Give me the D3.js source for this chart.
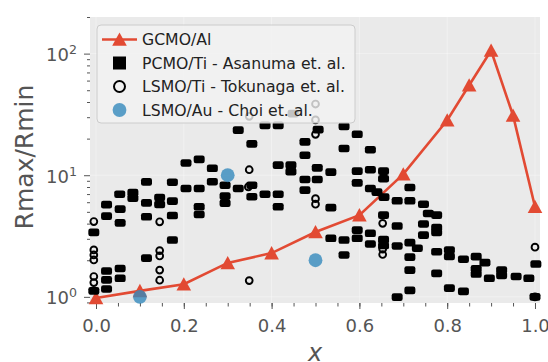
<!DOCTYPE html>
<html>
<head>
<meta charset="utf-8">
<script src="https://cdn.jsdelivr.net/npm/d3@7"></script>
<style>
body { margin: 0; background: #fff; }
svg { display: block; font-family: "DejaVu Sans", sans-serif; }
</style>
</head>
<body>
<script>
// chart values
var gcmoX = [0, 0.1, 0.2, 0.3, 0.4, 0.5, 0.6, 0.7, 0.8, 0.85, 0.9, 0.95, 1.0];
var gcmoY = [0.98, 1.12, 1.27, 1.9, 2.29, 3.41, 4.7, 10.2, 28.3, 55, 106, 31, 5.5];

var pcmoX = [
  -0.005, -0.005,
  0.024, 0.024, 0.024, 0.024, 0.024,
  0.054, 0.055, 0.055, 0.055, 0.055,
  0.084, 0.084,
  0.115, 0.115, 0.115, 0.115,
  0.145, 0.145,
  0.174, 0.174, 0.174, 0.174,
  0.205, 0.205,
  0.235, 0.235, 0.235, 0.235,
  0.265, 0.265,
  0.294, 0.294, 0.294,
  0.324, 0.324,
  0.355, 0.355, 0.355,
  0.385, 0.385,
  0.415, 0.415, 0.415, 0.415,
  0.444, 0.444, 0.449,
  0.476, 0.476, 0.476, 0.476,
  0.506, 0.504, 0.504,
  0.535, 0.535, 0.535,
  0.565, 0.565, 0.565, 0.565,
  0.595, 0.595, 0.595, 0.595, 0.595,
  0.625, 0.625, 0.625, 0.625, 0.625,
  0.655, 0.655, 0.655, 0.655, 0.655, 0.640, 0.656,
  0.686, 0.686, 0.686, 0.686,
  0.715, 0.715, 0.715, 0.715, 0.715, 0.715,
  0.732,
  0.746, 0.746, 0.746,
  0.757,
  0.776, 0.776, 0.776, 0.776, 0.776,
  0.805, 0.805, 0.805,
  0.837, 0.837,
  0.866, 0.866, 0.866,
  0.886, 0.896,
  0.924, 0.924,
  0.957, 0.986, 1.002, 1.0
];
var pcmoY = [
  3.39, 1.12,
  5.73, 4.61, 1.63, 1.38, 1.16,
  6.98, 5.26, 4.06, 1.71, 1.42,
  7.19, 6.48,
  8.81, 5.93, 4.55, 2.08,
  6.56, 5.75,
  8.76, 6.12, 4.66, 2.93,
  12.6, 7.78,
  13.5, 7.78, 5.50, 4.76,
  11.4, 8.85,
  8.28, 6.73, 5.89,
  23.5, 7.78,
  18.1, 8.28, 6.66,
  25.7, 6.98,
  25.7, 12.1, 6.98, 5.50,
  12.1, 10.7, 32.1,
  18.8, 14.6, 9.22, 7.54,
  23.7, 11.5, 9.22,
  10.6, 5.42, 3.03,
  25.2, 16.6, 2.93, 2.21,
  21.7, 10.8, 8.65, 3.54, 3.03,
  16.2, 11.1, 7.78, 3.33, 2.72,
  10.8, 9.36, 4.70, 2.96, 2.64, 7.26, 6.60,
  6.16, 3.82, 2.62, 0.994,
  7.93, 6.16, 2.79, 2.12, 1.66, 1.13,
  2.51,
  5.78, 3.97, 3.22,
  4.85,
  4.70, 3.71, 3.38, 2.35, 1.56,
  2.43, 2.15, 1.18,
  2.04, 1.11,
  2.14, 1.70, 1.54,
  1.91, 1.42,
  1.66, 1.50,
  1.47, 1.42, 1.86, 1.0
];

var lsmoTiX = [
  -0.005, -0.005, -0.005, -0.005, -0.005, -0.005,
  0.145, 0.145, 0.145, 0.145, 0.145,
  0.349, 0.349, 0.347, 0.349,
  0.500, 0.500, 0.500, 0.500, 0.500,
  0.653, 0.653, 0.653,
  1.0, 1.0
];
var lsmoTiY = [
  4.16, 2.43, 2.21, 2.01, 1.47, 1.31,
  4.14, 2.40, 2.17, 1.66, 1.37,
  30.5, 11.1, 8.02, 1.36,
  38.5, 28.5, 21.7, 6.42, 5.78,
  4.02, 2.47, 2.23,
  2.56, 1.0
];

var lsmoAuX = [0.1, 0.3, 0.5];
var lsmoAuY = [1.0, 10, 2.0];

var xTicks = [0, 0.2, 0.4, 0.6, 0.8, 1.0];
var xMinorTicks = d3.range(0, 21).map(function(i) { return i * 0.05; });
var yTicks = [1, 10, 100];
var yMinorTicks = [0.9, 2, 3, 4, 5, 6, 7, 8, 9, 20, 30, 40, 50, 60, 70, 80, 90, 200];

var legendLabels = ["GCMO/Al", "PCMO/Ti - Asanuma et. al.", "LSMO/Ti - Tokunaga et. al.", "LSMO/Au - Choi et. al."];

var width = 548, height = 362;
var plot = {left: 90, right: 540, top: 17, bottom: 303};
var red = "#E24A33", blue = "#348ABD", grey = "#555";

var svg = d3.select("body").append("svg")
    .attr("width", width)
    .attr("height", height);

var x = d3.scaleLinear().domain([-0.0137, 1.0114]).range([plot.left, plot.right]);
var y = d3.scaleLog().domain([0.89, 200]).range([plot.bottom, plot.top]);

// background
svg.append("rect")
    .attr("x", plot.left).attr("y", plot.top)
    .attr("width", plot.right - plot.left)
    .attr("height", plot.bottom - plot.top)
    .attr("fill", "#EAEAEA");

// faint grid
var grid = svg.append("g").attr("stroke", "#fff").attr("stroke-opacity", 0.45).attr("stroke-width", 0.8);
grid.selectAll("line.gx").data(xTicks).enter().append("line")
    .attr("x1", function(d) { return x(d); }).attr("x2", function(d) { return x(d); })
    .attr("y1", plot.top).attr("y2", plot.bottom);
grid.selectAll("line.gy").data(yTicks).enter().append("line")
    .attr("y1", function(d) { return y(d); }).attr("y2", function(d) { return y(d); })
    .attr("x1", plot.left).attr("x2", plot.right);

// axes
var xMinor = svg.append("g").attr("transform", "translate(0," + plot.bottom + ")")
    .call(d3.axisBottom(x).tickValues(xMinorTicks).tickSize(3.5).tickFormat(""));
var xMajor = svg.append("g").attr("transform", "translate(0," + plot.bottom + ")")
    .call(d3.axisBottom(x).tickValues(xTicks).tickSize(6).tickPadding(10).tickFormat(d3.format(".1f")));
var yMinor = svg.append("g").attr("transform", "translate(" + plot.left + ",0)")
    .call(d3.axisLeft(y).tickValues(yMinorTicks).tickSize(3).tickFormat(""));
var yMajor = svg.append("g").attr("transform", "translate(" + plot.left + ",0)")
    .call(d3.axisLeft(y).tickValues(yTicks).tickSize(6).tickPadding(7).tickFormat(""));

[xMinor, xMajor, yMinor, yMajor].forEach(function(a) {
    a.select(".domain").remove();
    a.selectAll(".tick line").attr("stroke", grey);
    a.selectAll("text").attr("fill", grey).style("font-size", "18px").style("font-family", "DejaVu Sans");
});

yMajor.selectAll(".tick text")
    .attr("dy", "0.38em")
    .each(function(d) {
        var t = d3.select(this);
        t.append("tspan").text("10");
        t.append("tspan").attr("dy", "-7").style("font-size", "12.6px").text(Math.round(Math.log10(d)));
    });

// axis titles
svg.append("text")
    .attr("transform", "translate(33,157) rotate(-90)")
    .attr("text-anchor", "middle")
    .attr("fill", grey)
    .style("font-size", "25px")
    .text("Rmax/Rmin");

svg.append("text")
    .attr("x", (plot.left + plot.right) / 2)
    .attr("y", 361)
    .attr("text-anchor", "middle")
    .attr("fill", grey)
    .style("font-size", "24px")
    .style("font-style", "italic")
    .text("x");

var triPath = "M0,-7L7.3,6.3L-7.3,6.3Z";

// GCMO/Al line
var gcmo = gcmoX.map(function(d, i) { return [d, gcmoY[i]]; });
svg.append("path")
    .datum(gcmo)
    .attr("fill", "none")
    .attr("stroke", red)
    .attr("stroke-width", 2.6)
    .attr("d", d3.line().x(function(d) { return x(d[0]); }).y(function(d) { return y(d[1]); }));
svg.selectAll("path.tri").data(gcmo).enter().append("path")
    .attr("class", "tri")
    .attr("d", triPath)
    .attr("fill", red)
    .attr("transform", function(d) { return "translate(" + x(d[0]) + "," + y(d[1]) + ")"; });

// PCMO/Ti squares
var pcmo = pcmoX.map(function(d, i) { return [d, pcmoY[i]]; });
svg.selectAll("rect.sq").data(pcmo).enter().append("rect")
    .attr("class", "sq")
    .attr("x", function(d) { return x(d[0]) - 5.5; })
    .attr("y", function(d) { return y(d[1]) - 3.8; })
    .attr("width", 11).attr("height", 7.6)
    .attr("rx", 2.2)
    .attr("fill", "#000");

// LSMO/Ti open circles
var lsmoTi = lsmoTiX.map(function(d, i) { return [d, lsmoTiY[i]]; });
svg.selectAll("circle.open").data(lsmoTi).enter().append("circle")
    .attr("class", "open")
    .attr("cx", function(d) { return x(d[0]); })
    .attr("cy", function(d) { return y(d[1]); })
    .attr("r", 3.4)
    .attr("fill", "none")
    .attr("stroke", "#000")
    .attr("stroke-width", 1.9);

// LSMO/Au
var lsmoAu = lsmoAuX.map(function(d, i) { return [d, lsmoAuY[i]]; });
svg.selectAll("circle.au").data(lsmoAu).enter().append("circle")
    .attr("class", "au")
    .attr("cx", function(d) { return x(d[0]); })
    .attr("cy", function(d) { return y(d[1]); })
    .attr("r", 6.9)
    .attr("fill", blue)
    .attr("fill-opacity", 0.8);

// legend
var legend = svg.append("g");
legend.append("rect")
    .attr("x", 97).attr("y", 25)
    .attr("width", 258).attr("height", 98)
    .attr("rx", 4)
    .attr("fill", "#F2F2F2").attr("fill-opacity", 0.8)
    .attr("stroke", "#CCCCCC").attr("stroke-width", 1);

var rowY = [39.5, 63, 86.5, 110];
var mx = 119.5;
legend.append("line")
    .attr("x1", 102).attr("x2", 137).attr("y1", rowY[0]).attr("y2", rowY[0])
    .attr("stroke", red).attr("stroke-width", 2.6);
legend.append("path").attr("d", triPath).attr("fill", red)
    .attr("transform", "translate(" + mx + "," + rowY[0] + ")");
legend.append("rect")
    .attr("x", mx - 6.5).attr("y", rowY[1] - 6.5).attr("width", 13).attr("height", 13)
    .attr("fill", "#000");
legend.append("circle")
    .attr("cx", mx).attr("cy", rowY[2]).attr("r", 5.5)
    .attr("fill", "none").attr("stroke", "#000").attr("stroke-width", 2);
legend.append("circle")
    .attr("cx", mx).attr("cy", rowY[3]).attr("r", 6.9)
    .attr("fill", blue).attr("fill-opacity", 0.8);

legend.selectAll("text.lab").data(legendLabels).enter().append("text")
    .attr("class", "lab")
    .attr("x", 142)
    .attr("y", function(d, i) { return rowY[i]; })
    .attr("dy", "0.36em")
    .attr("fill", "#222")
    .style("font-size", "15.7px")
    .text(function(d) { return d; });
</script>
</body>
</html>
